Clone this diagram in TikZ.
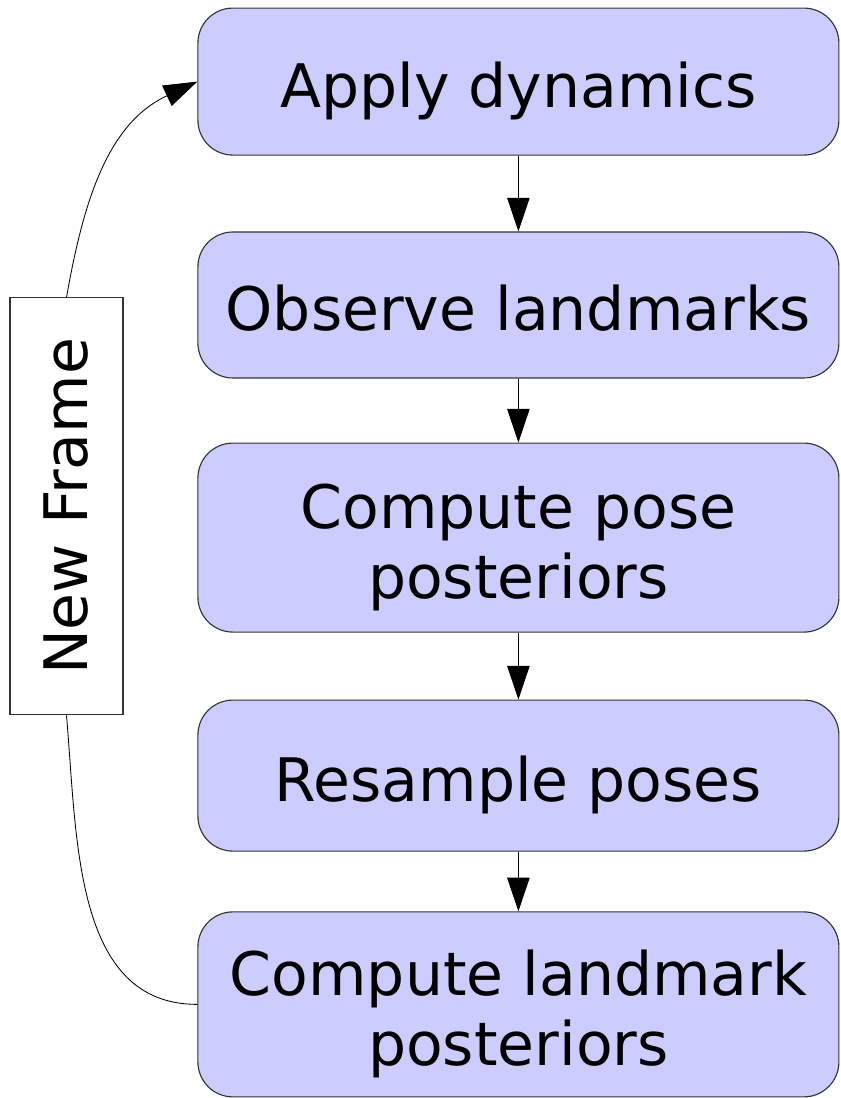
\documentclass[tikz,border=0pt]{standalone}
\usepackage{fontspec}
\setmainfont{DejaVu Sans}
\usetikzlibrary{arrows.meta, positioning}
\definecolor{stagefill}{HTML}{CCCCFF}
\definecolor{stageline}{HTML}{333333}

\begin{document}
\begin{tikzpicture}[
    stage/.style={draw=stageline, line width=0.8pt, rounded corners=0.875cm, fill=stagefill,
        minimum width=16.025cm, inner xsep=0pt, align=center,
        font=\fontsize{42.7}{49.4}\selectfont, text height=1.64cm, text depth=0.36cm},
    twoline/.style={text height=3.4cm, text depth=0.36cm},
    framebox/.style={draw=stageline, line width=0.8pt, fill=white, rotate=90,
        minimum width=10.425cm, minimum height=2.825cm, inner sep=0pt,
        font=\fontsize{42.7}{49.4}\selectfont},
    arr/.style={-{Triangle[length=0.84cm, width=0.56cm]}, line width=0.6pt, black},
    loopline/.style={line width=0.6pt, black},
]
\useasboundingbox (0,0) rectangle (21,27.45);

% --- Stages of one frame ---
\node[stage, minimum height=3.675cm] (dynamics) at (12.96, 25.41) {Apply dynamics};
\node[stage, minimum height=3.65cm] (observe) at (12.96, 19.825) {Observe landmarks};
\node[stage, twoline, minimum height=4.725cm] (posepost) at (12.96, 14.01) {Compute pose\\posteriors};
\node[stage, minimum height=3.775cm] (resample) at (12.96, 8.06) {Resample poses};
\node[stage, twoline, minimum height=4.625cm] (lmpost) at (12.96, 2.34) {Compute landmark\\posteriors};

\draw[arr] (dynamics) -- (observe);
\draw[arr] (observe) -- (posepost);
\draw[arr] (posepost) -- (resample);
\draw[arr] (resample) -- (lmpost);

% --- Loop back (node is rotated: east is on top) ---
\node[framebox] (newframe) at (1.6625, 14.79) {New Frame};
\draw[loopline] (lmpost.west) to[out=180, in=-85] (newframe.west);
\draw[arr] (newframe.east) to[out=80, in=205] (dynamics.west);

\end{tikzpicture}
\end{document}
